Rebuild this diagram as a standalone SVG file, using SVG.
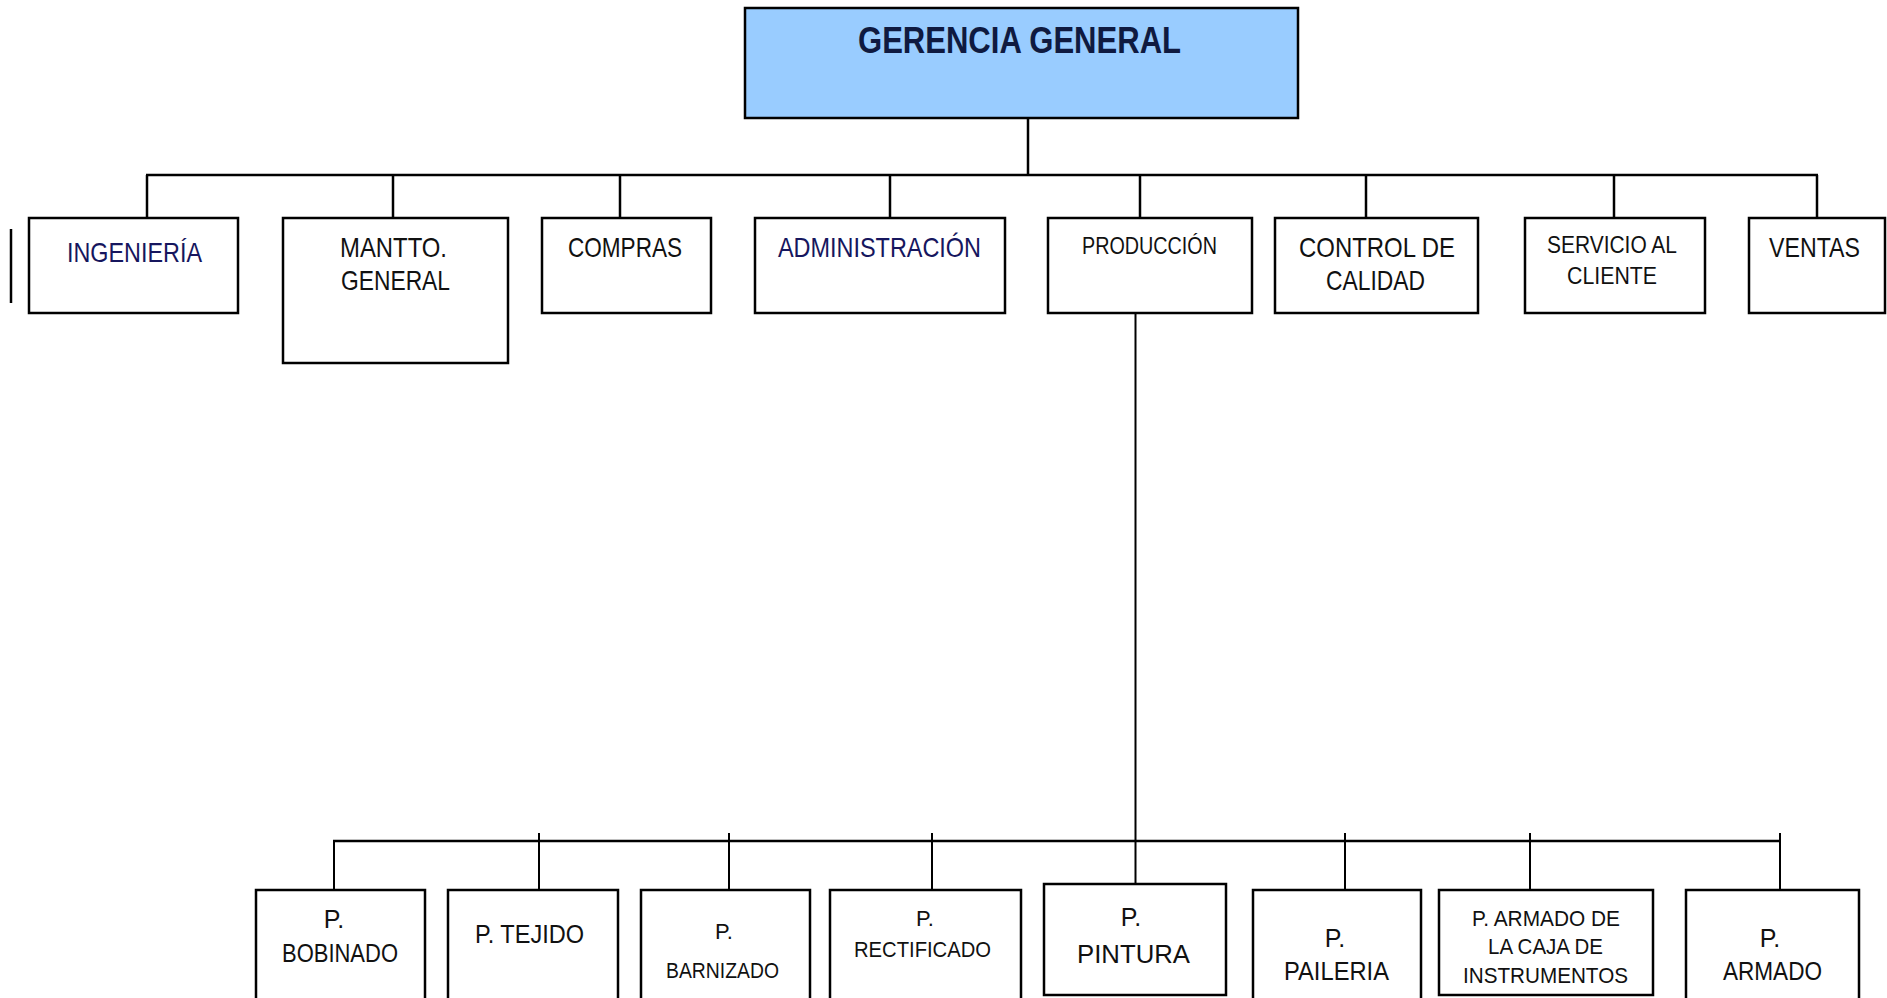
<svg xmlns="http://www.w3.org/2000/svg" width="1887" height="998" viewBox="0 0 1887 998">
  <style>
    .box { fill: #ffffff; stroke: #000000; stroke-width: 2.5; }
    .top { fill: #99ccff; stroke: #000000; stroke-width: 2.5; }
    .wire { fill: none; stroke: #000000; stroke-width: 2.5; }
    .thin { fill: none; stroke: #000000; stroke-width: 2; }
    text { font-family: "Liberation Sans", Arial, sans-serif; text-anchor: middle; fill: #111111; }
    .t1 { font-size: 28px; }
    .t1s { font-size: 24px; }
    .t2 { font-size: 22px; }
    .t3 { font-size: 25px; }
    .navy { fill: #16165e; }
    .title { font-size: 36px; font-weight: bold; fill: #0f1a40; }
  </style>
  <rect width="1887" height="998" fill="#ffffff"/>

  <!-- connectors -->
  <g id="connectors">
    <!-- head to first-level bus -->
    <line class="wire" x1="1028" y1="118" x2="1028" y2="175"/>
    <line class="wire" x1="146" y1="175" x2="1818" y2="175"/>
    <line class="wire" x1="147" y1="175" x2="147" y2="218"/>
    <line class="wire" x1="393" y1="175" x2="393" y2="218"/>
    <line class="wire" x1="620" y1="175" x2="620" y2="218"/>
    <line class="wire" x1="890" y1="175" x2="890" y2="218"/>
    <line class="wire" x1="1140" y1="175" x2="1140" y2="218"/>
    <line class="wire" x1="1366" y1="175" x2="1366" y2="218"/>
    <line class="wire" x1="1614" y1="175" x2="1614" y2="218"/>
    <line class="wire" x1="1817" y1="175" x2="1817" y2="218"/>
    <!-- stray mark left of INGENIERÍA -->
    <line class="wire" x1="11" y1="229" x2="11" y2="303"/>
    <!-- production down to plant bus -->
    <line class="thin" x1="1135.5" y1="307" x2="1135.5" y2="888"/>
    <line class="wire" x1="333" y1="841" x2="1781" y2="841"/>
    <line class="thin" x1="334" y1="841" x2="334" y2="890"/>
    <line class="thin" x1="539" y1="833" x2="539" y2="890"/>
    <line class="thin" x1="729" y1="833" x2="729" y2="890"/>
    <line class="thin" x1="932" y1="833" x2="932" y2="890"/>
    <line class="thin" x1="1345" y1="833" x2="1345" y2="890"/>
    <line class="thin" x1="1530" y1="833" x2="1530" y2="890"/>
    <line class="thin" x1="1780" y1="833" x2="1780" y2="890"/>
  </g>

  <!-- head -->
  <g id="gerencia-general">
    <rect class="top" x="745" y="8" width="553" height="110"/>
    <text class="title" x="1019.5" y="53" textLength="323" lengthAdjust="spacingAndGlyphs">GERENCIA GENERAL</text>
  </g>

  <!-- first level -->
  <g id="ingenieria">
    <rect class="box" x="29" y="218" width="209" height="95"/>
    <text class="t1 navy" x="134.5" y="262" textLength="135" lengthAdjust="spacingAndGlyphs">INGENIERÍA</text>
  </g>
  <g id="mantto-general">
    <rect class="box" x="283" y="218" width="225" height="145"/>
    <text class="t1" x="393.5" y="257" textLength="107" lengthAdjust="spacingAndGlyphs">MANTTO.</text>
    <text class="t1" x="395.5" y="290" textLength="109" lengthAdjust="spacingAndGlyphs">GENERAL</text>
  </g>
  <g id="compras">
    <rect class="box" x="542" y="218" width="169" height="95"/>
    <text class="t1" x="625" y="257" textLength="114" lengthAdjust="spacingAndGlyphs">COMPRAS</text>
  </g>
  <g id="administracion">
    <rect class="box" x="755" y="218" width="250" height="95"/>
    <text class="t1 navy" x="879.5" y="257" textLength="203" lengthAdjust="spacingAndGlyphs">ADMINISTRACIÓN</text>
  </g>
  <g id="produccion">
    <rect class="box" x="1048" y="218" width="204" height="95"/>
    <text class="t1s" x="1149.5" y="254" textLength="135" lengthAdjust="spacingAndGlyphs">PRODUCCIÓN</text>
  </g>
  <g id="control-de-calidad">
    <rect class="box" x="1275" y="218" width="203" height="95"/>
    <text class="t1" x="1377" y="257" textLength="156" lengthAdjust="spacingAndGlyphs">CONTROL DE</text>
    <text class="t1" x="1375.5" y="290" textLength="99" lengthAdjust="spacingAndGlyphs">CALIDAD</text>
  </g>
  <g id="servicio-al-cliente">
    <rect class="box" x="1525" y="218" width="180" height="95"/>
    <text class="t1s" x="1612" y="253" textLength="130" lengthAdjust="spacingAndGlyphs">SERVICIO AL</text>
    <text class="t1s" x="1612" y="284" textLength="90" lengthAdjust="spacingAndGlyphs">CLIENTE</text>
  </g>
  <g id="ventas">
    <rect class="box" x="1749" y="218" width="136" height="95"/>
    <text class="t1" x="1814.5" y="257" textLength="91" lengthAdjust="spacingAndGlyphs">VENTAS</text>
  </g>

  <!-- plant sections -->
  <g id="p-bobinado">
    <rect class="box" x="256" y="890" width="169" height="130"/>
    <text class="t3" x="334" y="928">P.</text>
    <text class="t3" x="340" y="962" textLength="116" lengthAdjust="spacingAndGlyphs">BOBINADO</text>
  </g>
  <g id="p-tejido">
    <rect class="box" x="448" y="890" width="170" height="130"/>
    <text class="t3" x="529.5" y="943" textLength="109" lengthAdjust="spacingAndGlyphs">P. TEJIDO</text>
  </g>
  <g id="p-barnizado">
    <rect class="box" x="641" y="890" width="169" height="130"/>
    <text class="t2" x="724" y="939">P.</text>
    <text class="t2" x="722.5" y="978" textLength="113" lengthAdjust="spacingAndGlyphs">BARNIZADO</text>
  </g>
  <g id="p-rectificado">
    <rect class="box" x="830" y="890" width="191" height="130"/>
    <text class="t2" x="925" y="926">P.</text>
    <text class="t2" x="922.5" y="957" textLength="137" lengthAdjust="spacingAndGlyphs">RECTIFICADO</text>
  </g>
  <g id="p-pintura">
    <rect class="box" x="1044" y="884" width="182" height="111"/>
    <text class="t3" x="1131" y="926">P.</text>
    <text class="t3" x="1133.5" y="963" textLength="113" lengthAdjust="spacingAndGlyphs">PINTURA</text>
  </g>
  <g id="p-paileria">
    <rect class="box" x="1253" y="890" width="168" height="130"/>
    <text class="t3" x="1335" y="947">P.</text>
    <text class="t3" x="1336.5" y="980" textLength="105" lengthAdjust="spacingAndGlyphs">PAILERIA</text>
  </g>
  <g id="p-armado-caja">
    <rect class="box" x="1439" y="890" width="214" height="105"/>
    <text class="t2" x="1546" y="926" textLength="148" lengthAdjust="spacingAndGlyphs">P. ARMADO DE</text>
    <text class="t2" x="1545.5" y="954" textLength="115" lengthAdjust="spacingAndGlyphs">LA CAJA DE</text>
    <text class="t2" x="1545.5" y="983" textLength="165" lengthAdjust="spacingAndGlyphs">INSTRUMENTOS</text>
  </g>
  <g id="p-armado">
    <rect class="box" x="1686" y="890" width="173" height="130"/>
    <text class="t3" x="1770" y="947">P.</text>
    <text class="t3" x="1772.5" y="980" textLength="99" lengthAdjust="spacingAndGlyphs">ARMADO</text>
  </g>
</svg>
